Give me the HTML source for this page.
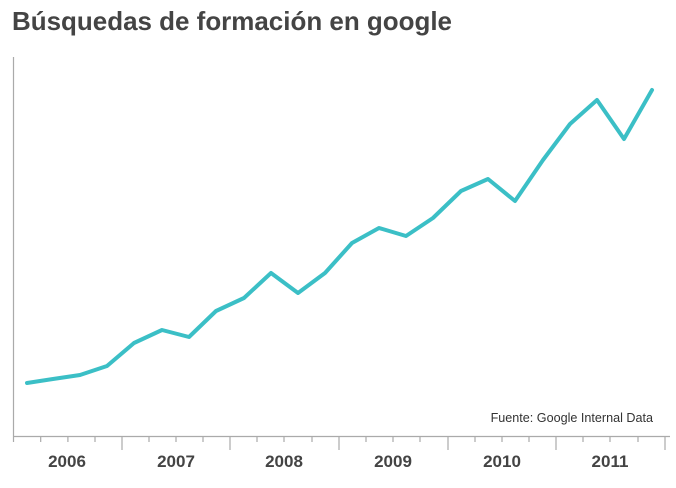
<!DOCTYPE html>
<html><head><meta charset="utf-8"><style>
body{margin:0;background:#fff;width:676px;height:483px;overflow:hidden;font-family:"Liberation Sans",sans-serif}
</style></head><body>
<svg width="676" height="483" xmlns="http://www.w3.org/2000/svg" font-family="Liberation Sans, sans-serif">
<text x="12" y="30" font-size="26" font-weight="bold" fill="#444" textLength="440" lengthAdjust="spacingAndGlyphs">Búsquedas de formación en google</text>
<line x1="13.5" y1="57" x2="13.5" y2="436" stroke="#aaa" stroke-width="1.2"/>
<line x1="13" y1="436.5" x2="670" y2="436.5" stroke="#aaa" stroke-width="1.2"/>
<g stroke="#aaa" stroke-width="1.2">
<line x1="13.5" y1="436" x2="13.5" y2="442"/><line x1="40.7" y1="436" x2="40.7" y2="442"/><line x1="67.9" y1="436" x2="67.9" y2="442"/><line x1="95" y1="436" x2="95" y2="442"/><line x1="122" y1="436" x2="122" y2="450"/>
<line x1="149" y1="436" x2="149" y2="442"/><line x1="176" y1="436" x2="176" y2="442"/><line x1="203" y1="436" x2="203" y2="442"/><line x1="230" y1="436" x2="230" y2="450"/>
<line x1="257" y1="436" x2="257" y2="442"/><line x1="284" y1="436" x2="284" y2="442"/><line x1="312" y1="436" x2="312" y2="442"/><line x1="339" y1="436" x2="339" y2="450"/>
<line x1="366" y1="436" x2="366" y2="442"/><line x1="393" y1="436" x2="393" y2="442"/><line x1="420" y1="436" x2="420" y2="442"/><line x1="448" y1="436" x2="448" y2="450"/>
<line x1="475" y1="436" x2="475" y2="442"/><line x1="502" y1="436" x2="502" y2="442"/><line x1="529" y1="436" x2="529" y2="442"/><line x1="556" y1="436" x2="556" y2="450"/>
<line x1="583" y1="436" x2="583" y2="442"/><line x1="610" y1="436" x2="610" y2="442"/><line x1="638" y1="436" x2="638" y2="442"/><line x1="665" y1="436" x2="665" y2="450"/>
</g>
<g font-size="17" font-weight="bold" fill="#444" text-anchor="middle">
<text x="67" y="467">2006</text><text x="176" y="467">2007</text><text x="284" y="467">2008</text><text x="393" y="467">2009</text><text x="502" y="467">2010</text><text x="610" y="467">2011</text>
</g>
<text x="653" y="422" font-size="12.6" fill="#333" text-anchor="end">Fuente: Google Internal Data</text>
<polyline fill="none" stroke="#3bbfc6" stroke-width="4" stroke-linejoin="round" stroke-linecap="round" points="27,383 53,379 80,375 107,366 134,343 162,330 189,337 216,311 244,298 271,273 298,293 325,273 352,243 379,228 406,236 433,218 461,191 488,179 515,201 543,160 570,124 597,100 624,139 652,90"/>
</svg>
</body></html>
